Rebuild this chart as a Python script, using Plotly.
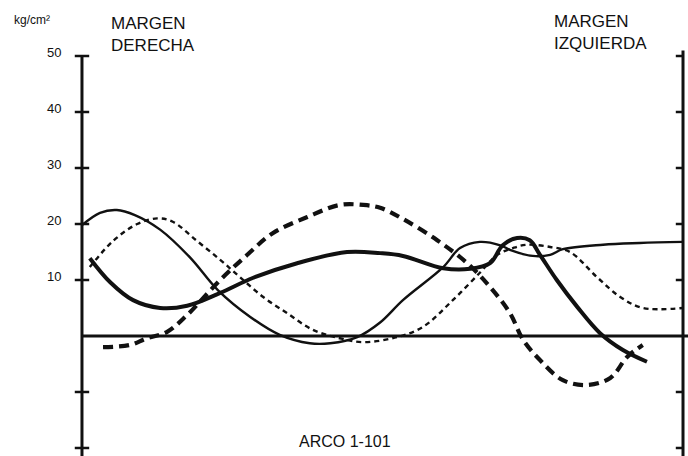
import plotly.graph_objects as go

# Position along the arch, in percent of the span (0 = right bank, 100 = left bank)
# and stress in kg/cm² for each load case.
x_thin_solid = [0, 3.0, 5.8, 8.8, 13.0, 18.0, 22.6, 28.0, 32.9, 37.9, 41.3, 45.8,
                49.6, 53.4, 60.1, 62.9, 66.2, 69.6, 71.2, 75.0, 77.9, 80.0, 86.7, 92.8, 100]
y_thin_solid = [19.8, 22.0, 22.5, 21.6, 19.0, 14.0, 8.2, 3.4, 0.2, -1.3, -1.3, -0.2,
                2.4, 6.4, 12.3, 15.7, 16.8, 16.2, 15.4, 14.3, 14.5, 15.5, 16.3, 16.6, 16.8]

x_thick_solid = [1.3, 4.7, 8.5, 13.0, 17.5, 23.0, 28.5, 35.8, 44.1, 49.6, 53.4, 60.1,
                 64.6, 67.9, 70.0, 72.4, 74.5, 76.2, 79.0, 82.4, 86.2, 90.0, 94.0]
y_thick_solid = [13.9, 9.6, 6.4, 5.0, 5.4, 7.7, 10.4, 13.0, 15.0, 14.8, 14.3, 12.1,
                 12.0, 13.0, 16.2, 17.5, 17.1, 14.5, 10.0, 5.2, 0.5, -2.5, -4.6]

x_thin_dash = [1.3, 5.2, 9.2, 12.5, 15.1, 19.1, 23.0, 26.3, 30.1, 34.1, 38.4, 42.9, 46.8,
               52.4, 56.7, 61.7, 66.2, 69.1, 71.7, 74.0, 77.9, 81.2, 85.7, 89.5, 93.3, 100]
y_thin_dash = [12.3, 17.0, 20.0, 21.0, 20.4, 17.0, 13.6, 10.5, 7.0, 4.1, 1.1, -0.4, -1.1,
               -0.2, 1.6, 6.4, 11.3, 14.5, 15.7, 16.3, 15.9, 15.0, 10.5, 7.0, 5.0, 5.0]

x_thick_dash = [3.5, 8.0, 10.8, 14.1, 17.5, 23.0, 27.5, 31.8, 37.4, 42.9, 46.8, 49.6,
                53.4, 59.1, 64.1, 67.9, 71.2, 73.4, 76.2, 80.0, 84.0, 87.9, 90.7, 93.3]
y_thick_dash = [-2.0, -1.6, -0.4, 0.7, 3.75, 10.0, 14.5, 18.4, 21.2, 23.4, 23.4, 22.9,
                20.9, 17.1, 13.0, 8.75, 4.1, -0.7, -4.3, -7.9, -8.75, -7.5, -3.75, -1.6]

left_ticks = [-20, -10, 10, 20, 30, 40, 50]
left_tick_labels = ["", "", "10", "20", "30", "40", "50"]
right_ticks = [-20, -10, 10, 20, 30, 40, 50]

X_MIN, X_MAX = -13.64, 100.83
Y_MIN, Y_MAX = -21.43, 60.0
INK = "#111111"
FONT = "Liberation Sans, Arial, sans-serif"

fig = go.Figure()

series = [
    (x_thin_solid, y_thin_solid, 2.4, "solid"),
    (x_thick_solid, y_thick_solid, 4.0, "solid"),
    (x_thin_dash, y_thin_dash, 2.4, "5px,4px"),
    (x_thick_dash, y_thick_dash, 4.2, "10px,6px"),
]
for xs, ys, w, dash in series:
    fig.add_trace(go.Scatter(
        x=xs, y=ys, mode="lines",
        line=dict(color=INK, width=w, dash=dash, shape="spline", smoothing=1.0),
        showlegend=False, hoverinfo="skip",
    ))

shapes = []
# left axis
shapes.append(dict(type="line", xref="x", yref="y", x0=0, x1=0, y0=50, y1=Y_MIN,
                   line=dict(color=INK, width=3)))
for t in left_ticks:
    shapes.append(dict(type="line", xref="x", yref="y", x0=-1.2, x1=1.2, y0=t, y1=t,
                       line=dict(color=INK, width=2.5)))
# right axis
shapes.append(dict(type="line", xref="x", yref="y", x0=100, x1=100, y0=51, y1=Y_MIN,
                   line=dict(color=INK, width=3)))
for t in right_ticks:
    shapes.append(dict(type="line", xref="x", yref="y", x0=98.8, x1=100, y0=t, y1=t,
                       line=dict(color=INK, width=2.5)))
# zero stress line
shapes.append(dict(type="line", xref="x", yref="y", x0=0, x1=X_MAX, y0=0, y1=0,
                   line=dict(color=INK, width=3)))

annotations = []
for t, lab in zip(left_ticks, left_tick_labels):
    if lab:
        annotations.append(dict(x=0, y=t, xref="x", yref="y", text=lab, showarrow=False,
                                xanchor="right", yanchor="middle", xshift=-19, yshift=4,
                                font=dict(family=FONT, size=13, color=INK)))
annotations += [
    dict(x=12, y=20, xref="paper", yref="paper", text="kg/cm²", showarrow=False,
         xanchor="left", yanchor="middle", font=dict(family=FONT, size=12, color=INK)),
    dict(x=109, y=34, xref="paper", yref="paper", text="MARGEN<br>DERECHA", showarrow=False,
         xanchor="left", yanchor="middle", align="left",
         font=dict(family=FONT, size=17, color=INK)),
    dict(x=552, y=32, xref="paper", yref="paper", text="MARGEN<br>IZQUIERDA", showarrow=False,
         xanchor="left", yanchor="middle", align="left",
         font=dict(family=FONT, size=17, color=INK)),
    dict(x=345, y=441, xref="paper", yref="paper", text="ARCO 1-101", showarrow=False,
         xanchor="center", yanchor="middle", font=dict(family=FONT, size=16, color=INK)),
]
# paper-positioned labels are given in pixels above; convert to paper fractions
W, H = 688, 456
for a in annotations:
    if a["xref"] == "paper":
        a["x"] = a["x"] / W
        a["y"] = 1 - a["y"] / H

fig.update_layout(
    width=W, height=H,
    margin=dict(l=0, r=0, t=0, b=0),
    paper_bgcolor="white", plot_bgcolor="white",
    xaxis=dict(range=[X_MIN, X_MAX], visible=False, fixedrange=True),
    yaxis=dict(range=[Y_MIN, Y_MAX], visible=False, fixedrange=True),
    shapes=shapes, annotations=annotations,
)

fig.write_html("out.html")
